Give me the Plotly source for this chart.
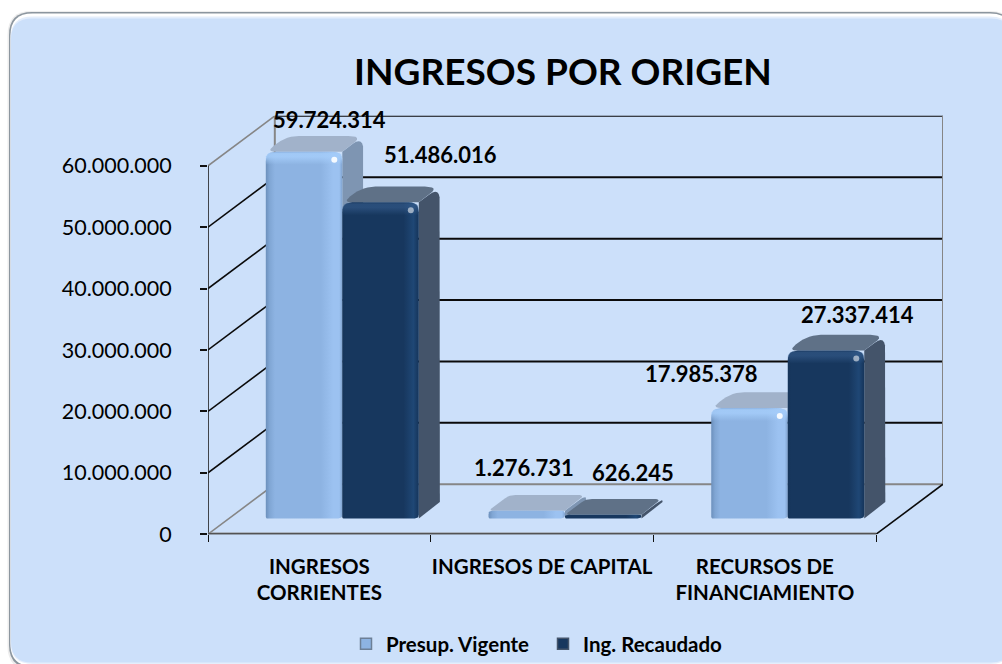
import plotly.graph_objects as go

# ---------- data ----------
categories = ["INGRESOS<br>CORRIENTES", "INGRESOS DE CAPITAL", "RECURSOS DE<br>FINANCIAMIENTO"]
presup_vigente = [59724314, 1276731, 17985378]
ing_recaudado = [51486016, 626245, 27337414]
series_names = ["Presup. Vigente", "Ing. Recaudado"]
y_ticks = [0, 10000000, 20000000, 30000000, 40000000, 50000000, 60000000]
title_text = "INGRESOS POR ORIGEN"

# ---------- canvas & projection ----------
W, H = 1002, 664
FONT = "Lato"
PX_X0, PX_X1, PX_Y0, PX_Y1 = 208.0, 943.0, 535.0, 116.0
X_MAX = 3.3
DEPTH_X = 0.3
DEPTH_V = 8130000.0
Y_MAX = 60000000 + DEPTH_V
SX = (PX_X1 - PX_X0) / X_MAX
SY = (PX_Y0 - PX_Y1) / Y_MAX
Z_FRONT, Z_BACK = 0.315, 0.63
BAR_W = 0.3435
BAR_GAP = 0.165


def proj(x, v, z=0.0):
    return x + DEPTH_X * z, v + DEPTH_V * z


def round_poly(pts, radii, steps=6):
    """Round polygon corners, working in screen-proportional units."""
    out = []
    n = len(pts)
    for i in range(n):
        px, py = pts[i - 1]
        cx, cy = pts[i]
        nx, ny = pts[(i + 1) % n]
        r = radii[i]
        ax, ay = (px - cx) * SX, (py - cy) * SY
        bx, by = (nx - cx) * SX, (ny - cy) * SY
        la = (ax * ax + ay * ay) ** 0.5 or 1
        lb = (bx * bx + by * by) ** 0.5 or 1
        ra = min(r, la / 2)
        rb = min(r, lb / 2)
        p0 = (cx + ax / la * ra / SX, cy + ay / la * ra / SY)
        p2 = (cx + bx / lb * rb / SX, cy + by / lb * rb / SY)
        for s in range(steps + 1):
            t = s / steps
            out.append((
                (1 - t) ** 2 * p0[0] + 2 * t * (1 - t) * cx + t * t * p2[0],
                (1 - t) ** 2 * p0[1] + 2 * t * (1 - t) * cy + t * t * p2[1],
            ))
    return out


fig = go.Figure()


def line(xs, ys, color, width=1.6):
    fig.add_trace(go.Scatter(x=xs, y=ys, mode="lines", line=dict(color=color, width=width),
                             hoverinfo="skip", showlegend=False, cliponaxis=False))


def poly(pts, color=None, gradient=None):
    kw = dict(fillcolor=color) if color else dict(fillgradient=gradient)
    fig.add_trace(go.Scatter(x=[p[0] for p in pts], y=[p[1] for p in pts], mode="lines",
                             line=dict(width=0), fill="toself", hoverinfo="skip",
                             showlegend=False, cliponaxis=False, **kw))


# ---------- walls ----------
GREY = "#868686"
BLACK = "#0a0a0a"
for v in y_ticks:
    c = GREY if v == 0 else BLACK
    bx, bv = proj(0, v, 1)
    ex, _ = proj(3, v, 1)
    line([bx, ex], [bv, bv], c, 2)
    line([0, bx], [v, bv], GREY if v in (0, y_ticks[-1]) else BLACK)
bx0, bv0 = proj(0, 0, 1)
bxt, bvt = proj(0, y_ticks[-1], 1)
ex0, _ = proj(3, 0, 1)
line([bx0, bxt], [bv0, bvt], GREY, 2)
line([ex0, ex0], [bv0, bvt], GREY, 2)
line([3, ex0], [0, bv0], BLACK)
line([0, 0], [0, y_ticks[-1]], "#1c1c1c")
line([0, 3], [0, 0], "#8a8a8a", 3.2)
line([0, 3], [0, 0], "#1c1c1c", 1.6)

# ---------- bars ----------
STYLE = {
    0: dict(top="#A1B2CA", side="#7E95B2",
            front=[[0, "#6C90BC"], [0.05, "#80A6D4"], [0.12, "#8DB3E2"], [0.72, "#8DB3E2"],
                   [0.88, "#9CC2F1"], [0.96, "#9CC2F1"], [1, "#7FA2CE"]],
            shine="rgba(165,205,250,0.85)", spec=0.9),
    1: dict(top="#5F7187", side="#44546A",
            front=[[0, "#16355A"], [0.05, "#17375E"], [0.8, "#17375E"],
                   [0.93, "#1F4775"], [1, "#15345A"]],
            shine="rgba(60,100,150,0.5)", spec=0.55),
}


def draw_bar(cat, slot, value):
    st = STYLE[slot]
    x0 = cat + BAR_GAP + BAR_W * slot
    x1 = x0 + BAR_W
    h_px = value * SY
    tall = h_px > 30
    r = 10 if tall else 4
    fb = [proj(x0, 0, Z_FRONT), proj(x1, 0, Z_FRONT), proj(x1, value, Z_FRONT), proj(x0, value, Z_FRONT)]
    # right side face
    side = [proj(x1, 0, Z_FRONT), proj(x1, 0, Z_BACK), proj(x1, value, Z_BACK), proj(x1, value, Z_FRONT)]
    poly(round_poly(side, [0, 1, r + 5, 0]), st["side"])
    # top face
    top = [proj(x0, value, Z_FRONT), proj(x1, value, Z_FRONT), proj(x1, value, Z_BACK), proj(x0, value, Z_BACK)]
    poly(round_poly(top, [r, 0, r + 5, r + 2]), st["top"])
    # front face
    poly(round_poly(fb, [1.5, 4, r, r]),
         gradient=dict(type="horizontal", colorscale=st["front"]))
    if tall:
        # soft lit band along the top edge of the front face
        band_v = 13 / SY
        inner = [proj(x0, value - band_v, Z_FRONT), proj(x1, value - band_v, Z_FRONT),
                 proj(x1, value, Z_FRONT), proj(x0, value, Z_FRONT)]
        poly(round_poly(inner, [0, 0, r, r]),
             gradient=dict(type="vertical", colorscale=[
                 [0, st["shine"].rsplit(",", 1)[0] + ",0)"], [0.6, st["shine"]],
                 [0.85, st["shine"]], [1, st["shine"].rsplit(",", 1)[0] + ",0.15)"]]))
        sx, sv = proj(x1 - 8 / SX, value - 8 / SY, Z_FRONT)
        fig.add_trace(go.Scatter(x=[sx], y=[sv], mode="markers", hoverinfo="skip", showlegend=False,
                                 marker=dict(size=6, color="white", opacity=st["spec"], line=dict(width=0))))


for i in range(len(categories)):
    draw_bar(i, 0, presup_vigente[i])
    draw_bar(i, 1, ing_recaudado[i])

# ---------- legend entries ----------
fig.add_trace(go.Scatter(x=[None], y=[None], mode="markers", name=series_names[0],
                         marker=dict(symbol="square", size=11, color="#8DB3E2",
                                     line=dict(color="#6C7F96", width=1.5))))
fig.add_trace(go.Scatter(x=[None], y=[None], mode="markers", name=series_names[1],
                         marker=dict(symbol="square", size=11, color="#17375E",
                                     line=dict(color="#44546A", width=1.5))))


# ---------- value labels (pixel nudges from the bar-top anchor) ----------
def fmt(v):
    return f"{v:,}".replace(",", ".")


nudges = {
    (0, 0): (4, 16), (0, 1): (39, 32),
    (1, 0): (-24, 27), (1, 1): (9, 26),
    (2, 0): (-69, 19), (2, 1): (10, 20),
}
annotations = []
for i in range(len(categories)):
    for slot, vals in enumerate((presup_vigente, ing_recaudado)):
        xc = i + BAR_GAP + BAR_W * (slot + 0.5)
        ax, av = proj(xc, vals[i], Z_BACK)
        dx, dy = nudges[(i, slot)]
        annotations.append(dict(x=ax, y=av, text=f"<b>{fmt(vals[i])}</b>", showarrow=False,
                                xshift=dx, yshift=dy, font=dict(family=FONT, size=22, color="black")))


# ---------- panel ----------
def rpath(l, t, r, b, rad):
    fx = lambda v: v / W
    fy = lambda v: 1 - v / H
    return (f"M {fx(l + rad)} {fy(t)} L {fx(r - rad)} {fy(t)} Q {fx(r)} {fy(t)} {fx(r)} {fy(t + rad)} "
            f"L {fx(r)} {fy(b - rad)} Q {fx(r)} {fy(b)} {fx(r - rad)} {fy(b)} "
            f"L {fx(l + rad)} {fy(b)} Q {fx(l)} {fy(b)} {fx(l)} {fy(b - rad)} "
            f"L {fx(l)} {fy(t + rad)} Q {fx(l)} {fy(t)} {fx(l + rad)} {fy(t)} Z")


panel_layers = [
    (7.5, 11, 1014, 671, 24, "#EDEDED"),
    (9, 12, 1013, 669, 23, "#8C969F"),
    (10.5, 13.5, 1012, 667, 22, "#FFFFFF"),
    (10.5, 16.5, 1012, 665, 22, "#E4EEFC"),
    (11, 18.5, 1012, 663.5, 21, "#CCE0FA"),
]
shapes = [dict(type="path", xref="paper", yref="paper", layer="below", line=dict(width=0),
               fillcolor=c, path=rpath(l, t, r, b, rad)) for l, t, r, b, rad, c in panel_layers]

fig.update_layout(
    width=W, height=H, autosize=False,
    margin=dict(l=0, r=0, t=0, b=0, pad=0),
    paper_bgcolor="white", plot_bgcolor="rgba(0,0,0,0)",
    separators=",.",
    shapes=shapes, annotations=annotations,
    font=dict(family=FONT, color="black"),
    title=dict(text=f"<b>{title_text}</b>", x=563 / W, xanchor="center", y=1 - 72 / H, yanchor="middle",
               font=dict(family=FONT, size=37, color="black"), automargin=False),
    showlegend=True,
    legend=dict(orientation="h", x=346 / W, xanchor="left", y=1 - 645 / H, yanchor="middle",
                bgcolor="rgba(0,0,0,0)", font=dict(family=FONT, size=20.5, color="black", weight="bold"),
                itemsizing="trace", entrywidth=152, entrywidthmode="pixels"),
    xaxis=dict(domain=[PX_X0 / W, PX_X1 / W], range=[0, X_MAX], showgrid=False, zeroline=False,
               showline=False, automargin=False, tickmode="array", tickvals=[0.5, 1.5, 2.5], ticktext=categories,
               ticks="", ticklabelstandoff=18,
               tickfont=dict(family=FONT, size=20.5, color="black", weight="bold"),
               minor=dict(tickmode="array", tickvals=[0, 1, 2, 3], ticks="outside", ticklen=7,
                          tickcolor="#111111", tickwidth=1, showgrid=False)),
    yaxis=dict(domain=[1 - PX_Y0 / H, 1 - PX_Y1 / H], range=[0, Y_MAX], showgrid=False, zeroline=False,
               showline=False, automargin=False, tickmode="array", tickvals=y_ticks, tickformat=",d", ticks="outside",
               ticklen=7, tickcolor="#111111", tickwidth=1.5, ticklabelstandoff=24,
               tickfont=dict(family=FONT, size=21.5, color="black")),
)

fig.write_html("out.html", config=dict(displayModeBar=False),
               post_script="document.body.style.margin='0';document.body.style.overflow='hidden';")
